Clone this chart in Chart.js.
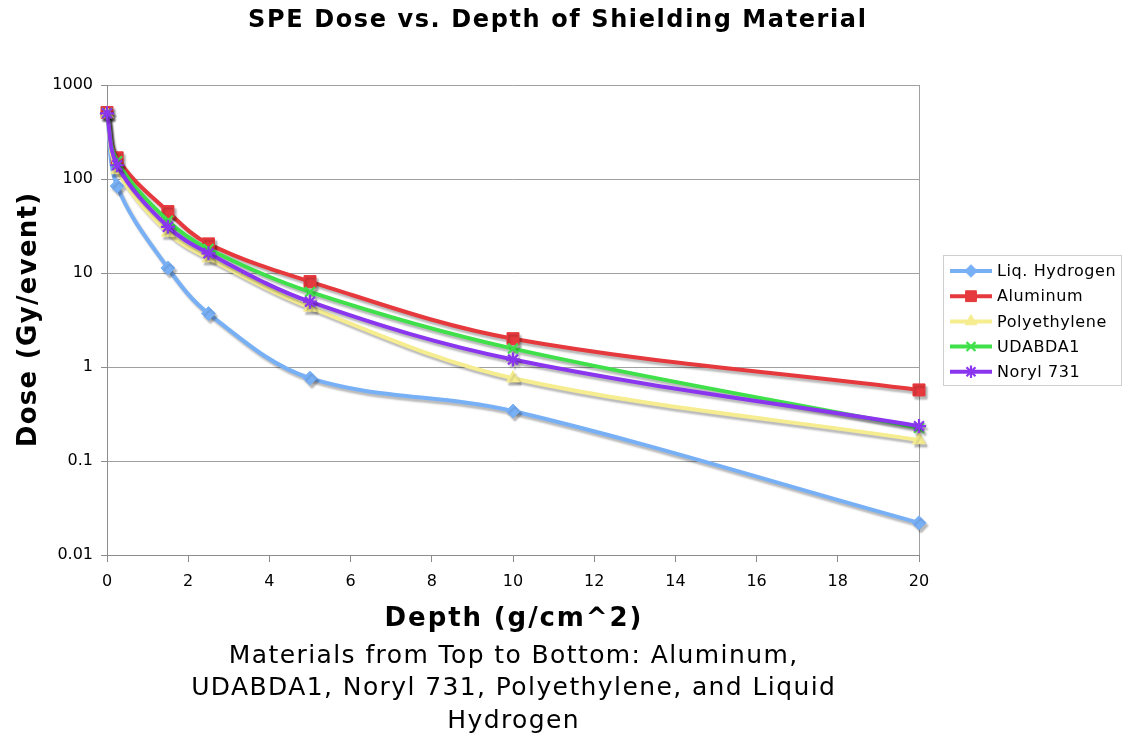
<!DOCTYPE html>
<html>
<head>
<meta charset="utf-8">
<script src="https://cdn.jsdelivr.net/npm/chart.js@4/dist/chart.umd.min.js"></script>
<style>
  html, body { margin: 0; padding: 0; background: #fff; }
  #wrap { width: 1126px; height: 736px; }
</style>
</head>
<body>
<div id="wrap"><canvas id="c" width="1126" height="736"></canvas></div>
<script>
// Depth of shielding (g/cm^2) and SPE dose (Gy/event) per material
const depths       = [0, 0.25, 1.5, 2.5, 5, 10, 20];
const liqHydrogen  = [500, 84, 11.3, 3.7, 0.76, 0.34, 0.022];
const aluminum     = [510, 168, 45, 20.4, 8.1, 2.0, 0.57];
const polyethylene = [490, 125, 27, 14.4, 4.3, 0.76, 0.167];
const udabda1      = [505, 155, 36, 18, 6.3, 1.57, 0.225];
const noryl731     = [500, 140, 31, 16.2, 4.95, 1.2, 0.235];

const seriesNames  = ['Liq. Hydrogen', 'Aluminum', 'Polyethylene', 'UDABDA1', 'Noryl 731'];
const yTickValues  = [0.01, 0.1, 1, 10, 100, 1000];
const xTickValues  = [0, 2, 4, 6, 8, 10, 12, 14, 16, 18, 20];

const titleText    = 'SPE Dose vs. Depth of Shielding Material';
const xTitleText   = 'Depth (g/cm^2)';
const yTitleText   = 'Dose (Gy/event)';
const noteLines    = ['Materials from Top to Bottom: Aluminum,',
                      'UDABDA1, Noryl 731, Polyethylene, and Liquid',
                      'Hydrogen'];

const FONT = 'DejaVu Sans';

const styles = [
  { color: '#78b0f6', pointStyle: 'rectRot',  radius: 7,   fill: true },
  { color: '#e5393d', pointStyle: 'rect',     radius: 8.5, fill: true },
  { color: '#f6ec90', pointStyle: 'triangle', radius: 7.5, fill: true },
  { color: '#3fe04a', pointStyle: 'crossRot', radius: 7,   fill: false },
  { color: '#8a35ee', pointStyle: 'star',     radius: 7,   fill: false }
];
const seriesValues = [liqHydrogen, aluminum, polyethylene, udabda1, noryl731];

const datasets = seriesNames.map((name, i) => ({
  label: name,
  data: depths.map((d, j) => ({ x: d, y: seriesValues[i][j] })),
  borderColor: styles[i].color,
  backgroundColor: styles[i].color,
  borderWidth: 4,
  pointStyle: styles[i].pointStyle,
  pointRadius: styles[i].radius,
  pointBorderWidth: styles[i].fill ? 1 : 2.2,
  pointBorderColor: styles[i].color,
  pointBackgroundColor: styles[i].color,
  tension: 0.35,
  clip: false,
  order: seriesNames.length - 1 - i
}));

// Soft grey drop shadow under every line and marker
const dropShadow = {
  id: 'dropShadow',
  beforeDatasetDraw(chart) {
    const ctx = chart.ctx;
    ctx.save();
    ctx.shadowColor = 'rgba(0,0,0,0.28)';
    ctx.shadowBlur = 2;
    ctx.shadowOffsetX = 2;
    ctx.shadowOffsetY = 3;
  },
  afterDatasetDraw(chart) {
    chart.ctx.restore();
  }
};

function spacedText(ctx, text, x, y, spacing) {
  ctx.letterSpacing = spacing + 'px';
  ctx.fillText(text, x + spacing / 2, y);
  ctx.letterSpacing = '0px';
}

// Chart title, axis titles and the note below the x axis
const captions = {
  id: 'captions',
  afterDraw(chart) {
    const ctx = chart.ctx;
    const area = chart.chartArea;
    const cx = (area.left + area.right) / 2;
    const cy = (area.top + area.bottom) / 2;
    ctx.save();
    ctx.fillStyle = '#000';
    ctx.textAlign = 'center';
    ctx.textBaseline = 'middle';

    ctx.font = 'bold 24px ' + FONT;
    spacedText(ctx, titleText, 557, 21, 1.6);

    ctx.font = 'bold 26px ' + FONT;
    spacedText(ctx, xTitleText, cx, 619, 1.9);

    ctx.font = '25px ' + FONT;
    noteLines.forEach((t, i) => spacedText(ctx, t, cx, 656 + i * 32.5, 1.4));

    ctx.translate(29, cy);
    ctx.rotate(-Math.PI / 2);
    ctx.font = 'bold 26px ' + FONT;
    spacedText(ctx, yTitleText, 0, 0, 1.3);
    ctx.restore();
  }
};

// Legend with a line segment and marker for each series
const sideLegend = {
  id: 'sideLegend',
  afterDraw(chart) {
    const ctx = chart.ctx;
    ctx.save();
    ctx.strokeStyle = '#cfcfcf';
    ctx.lineWidth = 1;
    ctx.strokeRect(943.5, 255.5, 178, 130);
    ctx.font = '16px ' + FONT;
    ctx.textBaseline = 'middle';
    ctx.textAlign = 'left';
    seriesNames.forEach((name, i) => {
      const y = 271 + i * 25.2;
      const s = styles[i];
      ctx.strokeStyle = s.color;
      ctx.fillStyle = s.color;
      ctx.lineWidth = 4;
      ctx.beginPath();
      ctx.moveTo(950, y);
      ctx.lineTo(992, y);
      ctx.stroke();
      ctx.lineWidth = s.fill ? 1 : 2.2;
      Chart.helpers.drawPoint(ctx, {
        pointStyle: s.pointStyle,
        rotation: 0,
        radius: s.radius * 0.9,
        borderWidth: s.fill ? 1 : 2.2
      }, 971, y);
      ctx.fillStyle = '#000';
      ctx.letterSpacing = '0.6px';
      ctx.fillText(name, 997, y + 1);
      ctx.letterSpacing = '0px';
    });
    ctx.restore();
  }
};

new Chart(document.getElementById('c'), {
  type: 'line',
  data: { datasets },
  plugins: [dropShadow, captions, sideLegend],
  options: {
    responsive: false,
    animation: false,
    devicePixelRatio: 1,
    layout: { padding: { top: 85, right: 207, bottom: 0, left: 0 } },
    plugins: {
      legend: { display: false },
      title: { display: false },
      tooltip: { enabled: false }
    },
    scales: {
      x: {
        type: 'linear',
        min: 0,
        max: 20,
        afterBuildTicks: s => { s.ticks = xTickValues.map(v => ({ value: v })); },
        afterFit: s => { s.height = 181; },
        ticks: { color: '#000', font: { family: FONT, size: 16 }, padding: 10, maxRotation: 0 },
        grid: {
          color: c => (c.tick && c.tick.value === 20) ? '#a0a0a0' : 'rgba(0,0,0,0)',
          tickColor: '#8c8c8c',
          tickLength: 7,
          lineWidth: 1
        },
        border: { color: '#8c8c8c', width: 1 }
      },
      y: {
        type: 'logarithmic',
        min: 0.01,
        max: 1000,
        afterBuildTicks: s => { s.ticks = yTickValues.map(v => ({ value: v })); },
        afterFit: s => { s.width = 107; },
        ticks: { color: '#000', font: { family: FONT, size: 16 }, padding: 8, callback: v => String(v) },
        grid: { color: '#a0a0a0', tickColor: '#8c8c8c', tickLength: 6, lineWidth: 1 },
        border: { color: '#8c8c8c', width: 1 }
      }
    }
  }
});
</script>
</body>
</html>
